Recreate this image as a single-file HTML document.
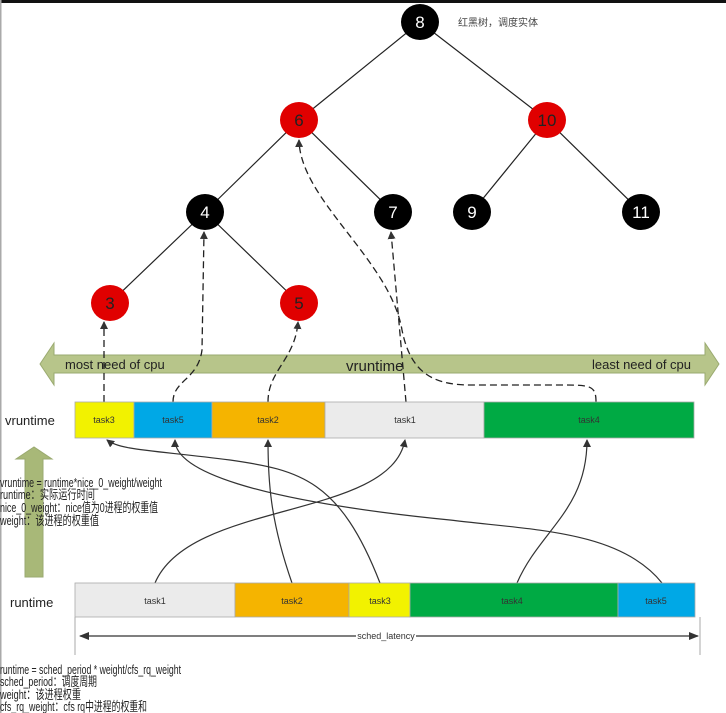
<!DOCTYPE html>
<html><head><meta charset="utf-8"><style>
html,body{margin:0;padding:0;background:#fff}
svg{display:block}
text{font-family:"Liberation Sans","Noto Sans CJK SC",sans-serif}
</style></head><body>
<svg width="726" height="713" viewBox="0 0 726 713" xmlns="http://www.w3.org/2000/svg">
<defs>
<marker id="a" markerWidth="8" markerHeight="8" refX="7" refY="4" orient="auto" markerUnits="userSpaceOnUse"><path d="M0,0 L8,4 L0,8 z" fill="#333"/></marker>
<marker id="b" markerWidth="10" markerHeight="10" refX="9" refY="5" orient="auto-start-reverse" markerUnits="userSpaceOnUse"><path d="M0,1 L10,5 L0,9 z" fill="#333"/></marker>
</defs>
<rect x="0" y="0" width="726" height="3" fill="#111"/>
<rect x="0" y="0" width="1.5" height="713" fill="#aaa"/>
<g stroke="#222" stroke-width="1.2">
<line x1="420" y1="22" x2="299" y2="120"/><line x1="420" y1="22" x2="547" y2="120"/>
<line x1="299" y1="120" x2="205" y2="212"/><line x1="299" y1="120" x2="393" y2="212"/>
<line x1="547" y1="120" x2="472" y2="212"/><line x1="547" y1="120" x2="641" y2="212"/>
<line x1="205" y1="212" x2="110" y2="303"/><line x1="205" y1="212" x2="299" y2="303"/>
</g>
<g font-size="17" text-anchor="middle">
<ellipse cx="420" cy="22" rx="19" ry="18" fill="#000"/><text x="420" y="28" fill="#fff">8</text>
<ellipse cx="299" cy="120" rx="19" ry="18" fill="#e00000"/><text x="299" y="126" fill="#222">6</text>
<ellipse cx="547" cy="120" rx="19" ry="18" fill="#e00000"/><text x="547" y="126" fill="#222">10</text>
<ellipse cx="205" cy="212" rx="19" ry="18" fill="#000"/><text x="205" y="218" fill="#fff">4</text>
<ellipse cx="393" cy="212" rx="19" ry="18" fill="#000"/><text x="393" y="218" fill="#fff">7</text>
<ellipse cx="472" cy="212" rx="19" ry="18" fill="#000"/><text x="472" y="218" fill="#fff">9</text>
<ellipse cx="641" cy="212" rx="19" ry="18" fill="#000"/><text x="641" y="218" fill="#fff">11</text>
<ellipse cx="110" cy="303" rx="19" ry="18" fill="#e00000"/><text x="110" y="309" fill="#222">3</text>
<ellipse cx="299" cy="303" rx="19" ry="18" fill="#e00000"/><text x="299" y="309" fill="#222">5</text>
</g>
<text x="458" y="26" font-size="10" fill="#444">红黑树，调度实体</text>
<path d="M40,364 L54,343 L54,355 L705,355 L705,343 L719,364 L705,385 L705,373 L54,373 L54,385 z" fill="#b7c58a" stroke="#9aaa70"/>
<text x="65" y="369" font-size="13" fill="#222">most need of cpu</text>
<text x="346" y="371" font-size="15" fill="#222">vruntime</text>
<text x="592" y="369" font-size="13" fill="#222">least need of cpu</text>
<g stroke="#222" stroke-width="1.3" fill="none" stroke-dasharray="7,4" marker-end="url(#a)">
<path d="M104,402 L104,322"/>
<path d="M173,402 C173,380 198,380 202,350 L204,232"/>
<path d="M268,402 C268,370 295,360 298,322"/>
<path d="M406,402 L391,232"/>
<path d="M596,402 C596,385 590,385 560,385 L470,385 C430,385 410,370 402,330 C390,260 300,200 299,140"/>
</g>
<text x="5" y="425" font-size="13" fill="#222">vruntime</text>
<g stroke="#aaa" stroke-width="0.8">
<rect x="75" y="402" width="59" height="36" fill="#f2f200"/>
<rect x="134" y="402" width="78" height="36" fill="#00a8e6"/>
<rect x="212" y="402" width="113" height="36" fill="#f5b400"/>
<rect x="325" y="402" width="159" height="36" fill="#ebebeb"/>
<rect x="484" y="402" width="210" height="36" fill="#00aa44"/>
</g>
<g font-size="9" text-anchor="middle" fill="#333">
<text x="104" y="423">task3</text><text x="173" y="423">task5</text><text x="268" y="423">task2</text><text x="405" y="423">task1</text><text x="589" y="423">task4</text>
</g>
<path d="M25,577 L25,459 L16,459 L34,447 L52,459 L43,459 L43,577 z" fill="#a8b878" stroke="#9aaa70"/>
<g font-size="13" fill="#222">
<text x="0" y="487" textLength="162" lengthAdjust="spacingAndGlyphs">vruntime = runtime*nice_0_weight/weight</text>
<text x="0" y="499" textLength="95" lengthAdjust="spacingAndGlyphs">runtime：实际运行时间</text>
<text x="0" y="512" textLength="158" lengthAdjust="spacingAndGlyphs">nice_0_weight：nice值为0进程的权重值</text>
<text x="0" y="525" textLength="99" lengthAdjust="spacingAndGlyphs">weight：该进程的权重值</text>
</g>
<g stroke="#333" stroke-width="1.2" fill="none" marker-end="url(#a)">
<path d="M155,583 C190,500 390,520 405,440"/>
<path d="M292,583 C270,520 268,480 268,440"/>
<path d="M380,583 C340,480 300,470 230,460 C150,450 120,450 107,440"/>
<path d="M517,583 C540,530 587,510 587,440"/>
<path d="M662,583 C620,530 530,530 450,520 C250,500 175,470 175,440"/>
</g>
<text x="10" y="607" font-size="13" fill="#222">runtime</text>
<g stroke="#aaa" stroke-width="0.8">
<rect x="75" y="583" width="160" height="34" fill="#ebebeb"/>
<rect x="235" y="583" width="114" height="34" fill="#f5b400"/>
<rect x="349" y="583" width="61" height="34" fill="#f2f200"/>
<rect x="410" y="583" width="208" height="34" fill="#00aa44"/>
<rect x="618" y="583" width="77" height="34" fill="#00a8e6"/>
</g>
<g font-size="9" text-anchor="middle" fill="#333">
<text x="155" y="604">task1</text><text x="292" y="604">task2</text><text x="380" y="604">task3</text><text x="512" y="604">task4</text><text x="656" y="604">task5</text>
</g>
<line x1="75" y1="617" x2="75" y2="655" stroke="#aaa"/>
<line x1="700" y1="617" x2="700" y2="655" stroke="#aaa"/>
<line x1="80" y1="636" x2="698" y2="636" stroke="#333" stroke-width="1.3" marker-start="url(#b)" marker-end="url(#b)"/>
<rect x="356" y="630" width="60" height="11" fill="#fff"/>
<text x="386" y="639" font-size="9" text-anchor="middle" fill="#333">sched_latency</text>
<g font-size="13" fill="#222">
<text x="0" y="674" textLength="181" lengthAdjust="spacingAndGlyphs">runtime = sched_period * weight/cfs_rq_weight</text>
<text x="0" y="686" textLength="97" lengthAdjust="spacingAndGlyphs">sched_period：调度周期</text>
<text x="0" y="699" textLength="81" lengthAdjust="spacingAndGlyphs">weight：该进程权重</text>
<text x="0" y="711" textLength="147" lengthAdjust="spacingAndGlyphs">cfs_rq_weight：cfs rq中进程的权重和</text>
</g>
</svg>
</body></html>
